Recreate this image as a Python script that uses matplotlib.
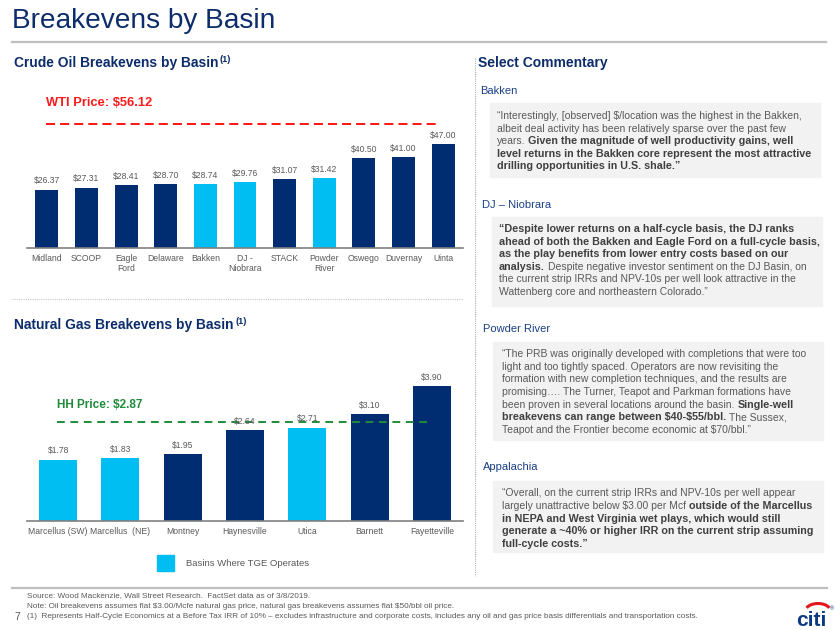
import matplotlib
matplotlib.use('Agg')
import matplotlib.pyplot as plt
from matplotlib.patches import Rectangle, Arc
from matplotlib.lines import Line2D
import numpy as np

plt.rcParams['font.family'] = ['Liberation Sans', 'DejaVu Sans']
plt.rcParams['text.parse_math'] = False

# data
oil_basins = ['Midland', 'SCOOP', 'Eagle\nFord', 'Delaware', 'Bakken', 'DJ -\nNiobrara',
              'STACK', 'Powder\nRiver', 'Oswego', 'Duvernay', 'Uinta']
oil_breakeven = [26.37, 27.31, 28.41, 28.70, 28.74, 29.76, 31.07, 31.42, 40.50, 41.00, 47.00]
oil_tge = [False, False, False, False, True, True, False, True, False, False, False]
wti_price = 56.12

gas_basins = ['Marcellus (SW)', 'Marcellus  (NE)', 'Montney', 'Haynesville', 'Utica',
              'Barnett', 'Fayetteville']
gas_breakeven = [1.78, 1.83, 1.95, 2.64, 2.71, 3.10, 3.90]
gas_tge = [True, True, False, False, True, False, False]
hh_price = 2.87

NAVY = '#002d72'
CYAN = '#00bdf2'
TITLE = '#0c2c6b'
HEAD = '#1a3f85'
GRAY = '#595959'
DGRAY = '#404040'
BOX = '#f2f2f2'

W, H = 840, 630
fig = plt.figure(figsize=(8.4, 6.3), dpi=100)
renderer = fig.canvas.get_renderer()


def fx(x):
    return x / W


def fy(y):
    return 1 - y / H


def hline(x0, x1, y, **kw):
    fig.add_artist(Line2D([fx(x0), fx(x1)], [fy(y), fy(y)], transform=fig.transFigure, **kw))


def text_w(s, size, bold):
    t = fig.text(0, 0, s, fontsize=size, weight='bold' if bold else 'normal')
    w = t.get_window_extent(renderer).width
    t.remove()
    return w


def rich_line(x, y, segs, size, bsize):
    cur = x
    for txt, bold in segs:
        sz = bsize if bold else size
        sp = text_w('a a', sz, bold) - text_w('aa', sz, bold)
        t = fig.text(fx(cur), fy(y), txt.strip(), fontsize=sz,
                     weight='bold' if bold else 'normal',
                     color=DGRAY if bold else GRAY, va='center', ha='left')
        cur += t.get_window_extent(renderer).width + sp


# ---- header ----
fig.text(fx(12), fy(21), 'Breakevens by Basin', fontsize=20.2, color=TITLE, va='center')
hline(12, 826, 41.5, color='#bfbfbf', lw=1.6)


def subtitle(x, y, s):
    t = fig.text(fx(x), fy(y), s, fontsize=9.9, weight='bold', color=TITLE, va='center')
    w = t.get_window_extent(renderer).width
    fig.text(fx(x + w + 1.5), fy(y - 3.5), '(1)', fontsize=6.5, weight='bold',
             color=TITLE, va='center')


subtitle(14, 63, 'Crude Oil Breakevens by Basin')
subtitle(14, 325, 'Natural Gas Breakevens by Basin')

# ---- oil chart ----
oil_scale = 2.215
ax1 = fig.add_axes([fx(27), fy(248), 436 / W, 70 * oil_scale / H])
x = np.arange(len(oil_basins))
cols = [CYAN if t else NAVY for t in oil_tge]
bars = ax1.bar(x, oil_breakeven, width=0.58, color=cols)
for b, v in zip(bars, oil_breakeven):
    ax1.annotate('$%.2f' % v, (b.get_x() + b.get_width() / 2, v), xytext=(0, 3),
                 textcoords='offset points', ha='center', va='bottom', fontsize=6.2, color=GRAY)
ax1.set_xlim(-0.5, len(oil_basins) - 0.5)
ax1.set_ylim(0, 70)
ax1.set_xticks(x)
ax1.set_xticklabels(oil_basins, fontsize=6.2, color=GRAY, linespacing=1.15)
ax1.tick_params(axis='x', length=0, pad=4)
ax1.set_yticks([])
for s in ['top', 'left', 'right']:
    ax1.spines[s].set_visible(False)
ax1.spines['bottom'].set_color('#808080')
ax1.spines['bottom'].set_linewidth(1.2)
ax1.patch.set_alpha(0)
ax1.axhline(wti_price, 0.044, 0.947, color='#ff1a1a', lw=1.45, dashes=(4.5, 2.5))
fig.text(fx(46), fy(103), 'WTI Price: $%.2f' % wti_price, fontsize=9.3, weight='bold',
         color='#ff1a1a', va='center')

hline(12, 463, 299, color='#c8c8c8', lw=0.8, ls=(0, (1, 1)))

# ---- gas chart ----
gas_scale = 34.5
ax2 = fig.add_axes([fx(27), fy(521), 436 / W, 4.6 * gas_scale / H])
x2 = np.arange(len(gas_basins))
cols2 = [CYAN if t else NAVY for t in gas_tge]
bars2 = ax2.bar(x2, gas_breakeven, width=0.61, color=cols2)
for b, v in zip(bars2, gas_breakeven):
    ax2.annotate('$%.2f' % v, (b.get_x() + b.get_width() / 2, v), xytext=(0, 3),
                 textcoords='offset points', ha='center', va='bottom', fontsize=6.2, color=GRAY)
ax2.set_xlim(-0.5, len(gas_basins) - 0.5)
ax2.set_ylim(0, 4.6)
ax2.set_xticks(x2)
ax2.set_xticklabels(gas_basins, fontsize=6.2, color=GRAY)
ax2.tick_params(axis='x', length=0, pad=4)
ax2.set_yticks([])
for s in ['top', 'left', 'right']:
    ax2.spines[s].set_visible(False)
ax2.spines['bottom'].set_color('#808080')
ax2.spines['bottom'].set_linewidth(1.2)
ax2.patch.set_alpha(0)
ax2.axhline(hh_price, 0.069, 0.92, color='#1e8c3a', lw=1.4, dashes=(4, 2.9))
fig.text(fx(57), fy(405), 'HH Price: $%.2f' % hh_price, fontsize=8.5, weight='bold',
         color='#1e8c3a', va='center')

# legend
fig.add_artist(Rectangle((fx(157), fy(571)), 17 / W, 16 / H, transform=fig.transFigure,
                         color=CYAN))
fig.text(fx(186), fy(563), 'Basins Where TGE Operates', fontsize=6.8, color=GRAY, va='center')

# ---- commentary ----
fig.add_artist(Line2D([fx(474.5), fx(474.5)], [fy(58), fy(576)], transform=fig.transFigure,
                      color='#b0b0b0', lw=0.8, ls=(0, (1, 1))))
fig.text(fx(478), fy(63), 'Select Commentary', fontsize=10, weight='bold', color=TITLE,
         va='center')

bakken = [
    [('\u201cInterestingly, [observed] $/location was the highest in the Bakken,', False)],
    [('albeit deal activity has been relatively sparse over the past few', False)],
    [('years.', False), ('Given the magnitude of well productivity gains, well', True)],
    [('level returns in the Bakken core represent the most attractive', True)],
    [('drilling opportunities in U.S. shale.\u201d', True)],
]
dj = [
    [('\u201cDespite lower returns on a half-cycle basis, the DJ ranks', True)],
    [('ahead of both the Bakken and Eagle Ford on a full-cycle basis,', True)],
    [('as the play benefits from lower entry costs based on our', True)],
    [('analysis.', True), ('Despite negative investor sentiment on the DJ Basin, on', False)],
    [('the current strip IRRs and NPV-10s per well look attractive in the', False)],
    [('Wattenberg core and northeastern Colorado.\u201d', False)],
]
powder = [
    [('\u201cThe PRB was originally developed with completions that were too', False)],
    [('light and too tightly spaced. Operators are now revisiting the', False)],
    [('formation with new completion techniques, and the results are', False)],
    [('promising\u2026. The Turner, Teapot and Parkman formations have', False)],
    [('been proven in several locations around the basin.', False), ('Single-well', True)],
    [('breakevens can range between $40-$55/bbl.', True), ('The Sussex,', False)],
    [('Teapot and the Frontier become economic at $70/bbl.\u201d', False)],
]
appalachia = [
    [('\u201cOverall, on the current strip IRRs and NPV-10s per well appear', False)],
    [('largely unattractive below $3.00 per Mcf', False), ('outside of the Marcellus', True)],
    [('in NEPA and West Virginia wet plays, which would still', True)],
    [('generate a ~40% or higher IRR on the current strip assuming', True)],
    [('full-cycle costs.\u201d', True)],
]

sections = [
    ('Bakken', 480, 91, 490, 103, 177, 497, 116, bakken),
    ('DJ \u2013 Niobrara', 482, 205, 492, 217, 306, 499, 229, dj),
    ('Powder River', 483, 329, 493, 342, 440, 502, 354.3, powder),
    ('Appalachia', 483, 467, 493, 481, 552, 502, 493.3, appalachia),
]
for name, hx, hy, bx, b0, b1, tx, l0, lines in sections:
    fig.text(fx(hx), fy(hy), name, fontsize=8, color=HEAD, va='center')
    fig.add_artist(Rectangle((fx(bx), fy(b1)), 330 / W, (b1 - b0) / H,
                             transform=fig.transFigure, color=BOX, zorder=0))
    for i, segs in enumerate(lines):
        rich_line(tx, l0 + i * 12.6, segs, 7.5, 7.75)

# ---- footer ----
hline(12, 827, 587.5, color='#bfbfbf', lw=1.6)
notes = [
    'Source: Wood Mackenzie, Wall Street Research.  FactSet data as of 3/8/2019.',
    'Note: Oil breakevens assumes flat $3.00/Mcfe natural gas price, natural gas breakevens '
    'assumes flat $50/bbl oil price.',
    '(1)  Represents Half-Cycle Economics at a Before Tax IRR of 10% \u2013 excludes infrastructure '
    'and corporate costs, includes any oil and gas price basis differentials and transportation costs.',
]
for i, n in enumerate(notes):
    fig.text(fx(27), fy(596 + i * 10.3), n, fontsize=5.9, color=GRAY, va='center')
fig.text(fx(14), fy(617), '7', fontsize=7.5, color=GRAY, va='center')

# citi logo
fig.text(fx(811), fy(626), 'citi', fontsize=15, weight='bold', color='#0a3a82',
         ha='center', va='baseline')
fig.add_artist(Arc((fx(818), fy(611)), 25 / W, 15 / H, theta1=20, theta2=160,
                   transform=fig.transFigure, color='#e3161d', lw=2.2))
fig.text(fx(832), fy(609), '\u00ae', fontsize=4, color='#0a3a82', va='center', ha='center')

fig.savefig('out.png', dpi=100)
